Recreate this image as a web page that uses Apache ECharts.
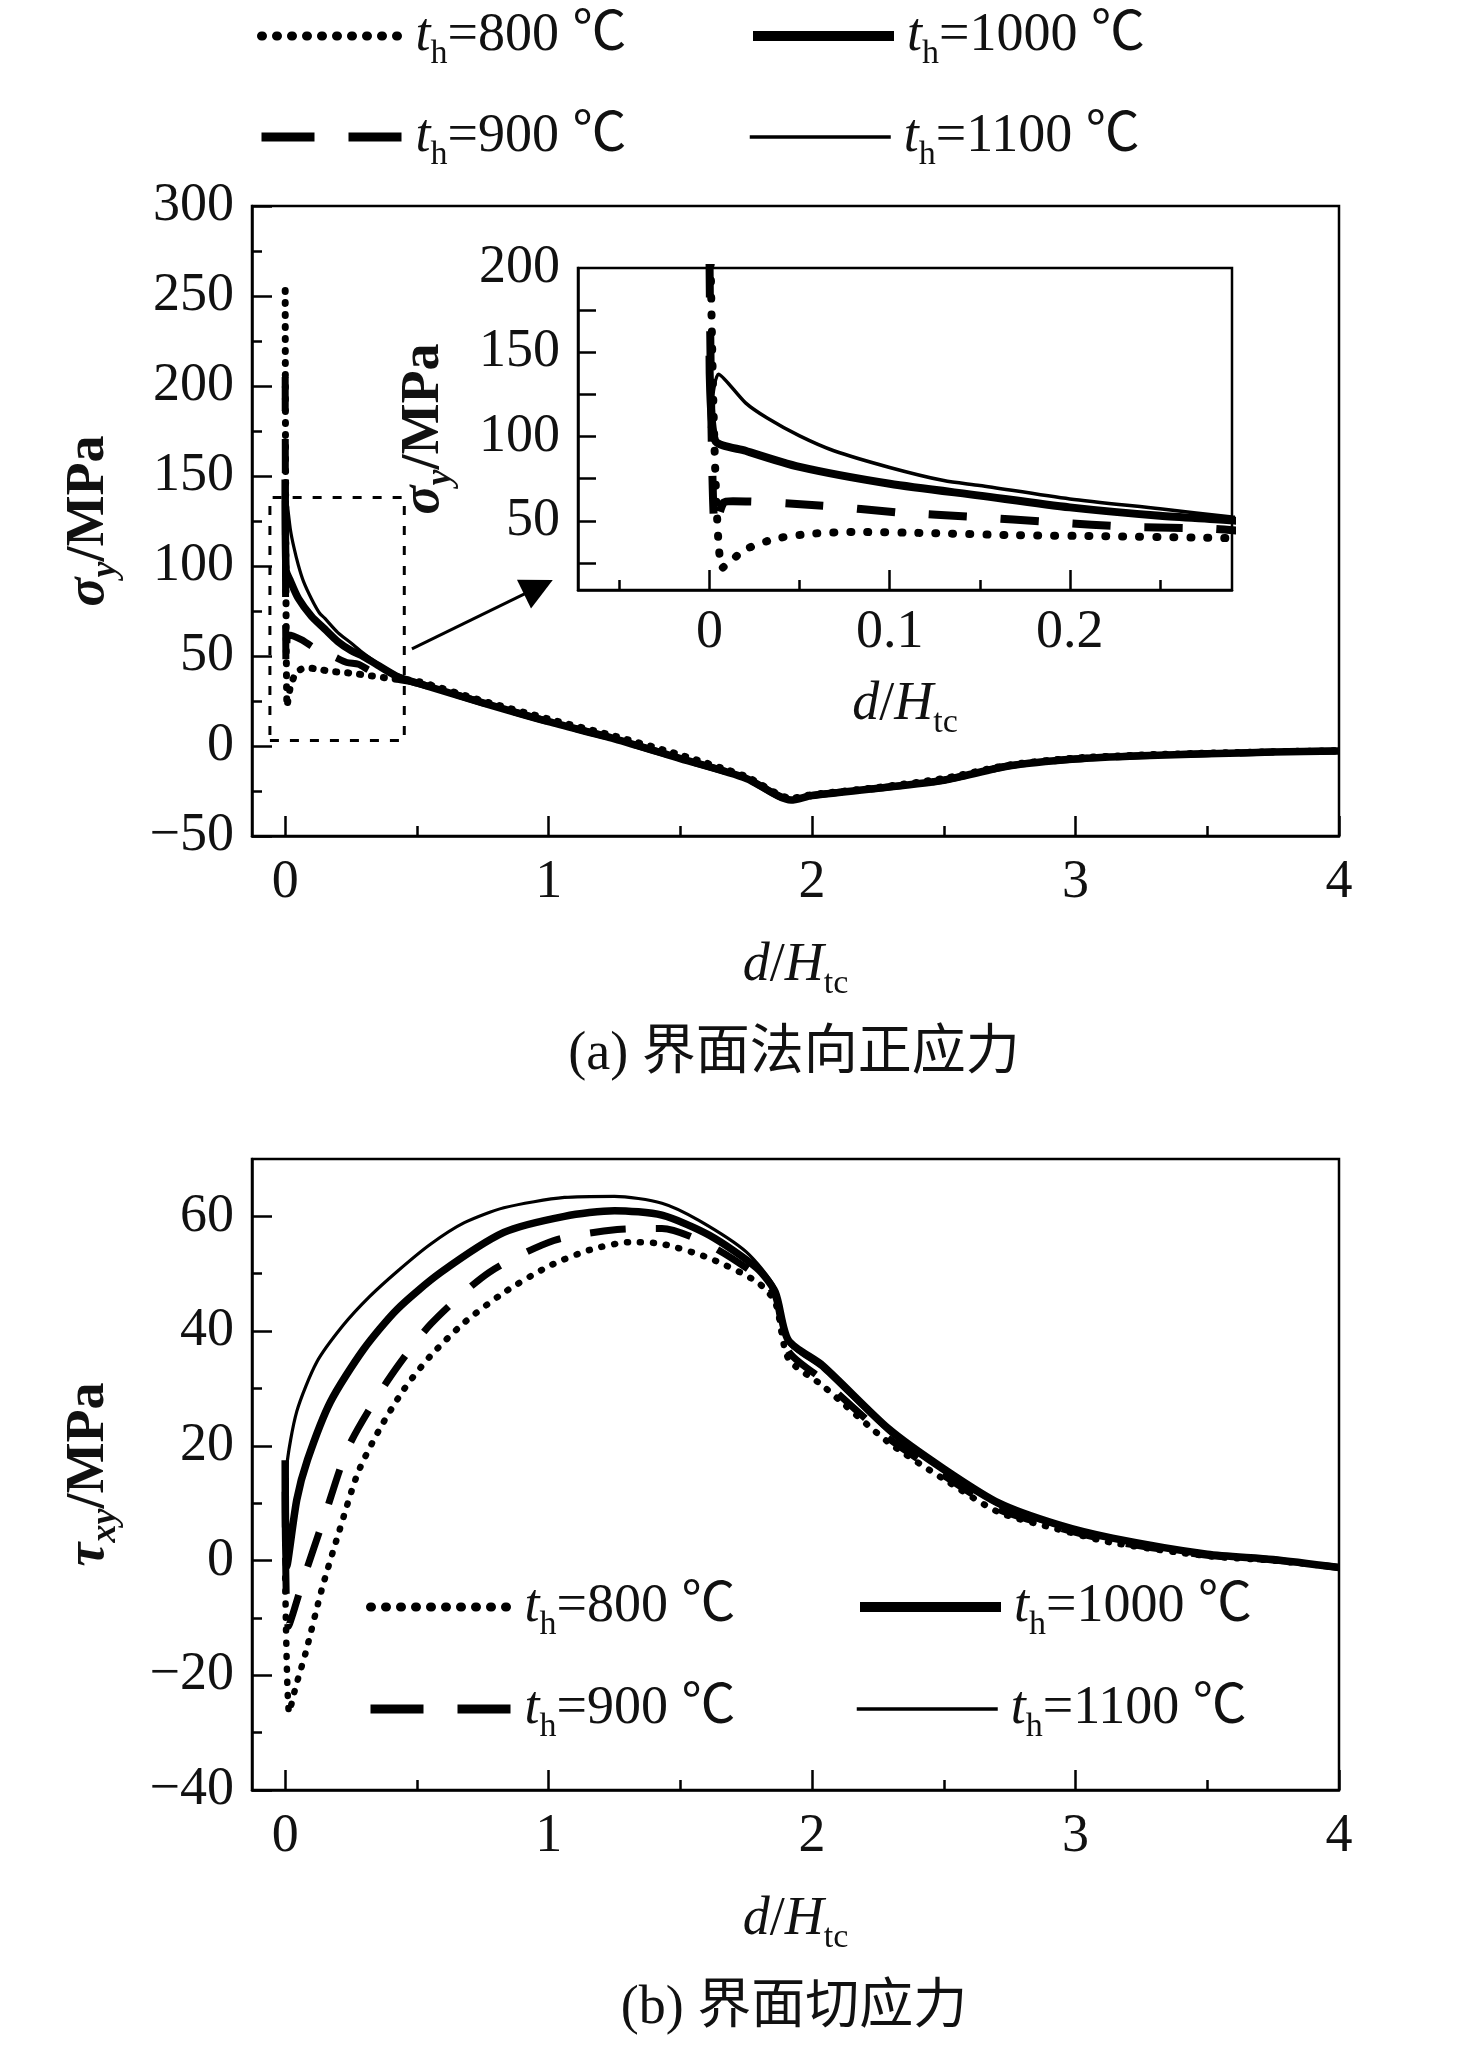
<!DOCTYPE html>
<html>
<head>
<meta charset="utf-8">
<script src="https://cdn.jsdelivr.net/npm/echarts@6/dist/echarts.min.js"></script>
<style>
  html, body { margin: 0; padding: 0; background: #fff; }
  #chart { width: 1476px; height: 2046px; }
</style>
</head>
<body>
<div id="chart"></div>
<script>
// heating temperatures (legend)
var temps = ['800', '900', '1000', '1100'];

// (a) interface normal stress sigma_y vs d/H_tc
var aX800 = [0, 0.007, 0.02, 0.037, 0.057, 0.08, 0.12, 0.17, 0.22, 0.27, 0.3, 0.4, 0.5, 0.75, 1.0, 1.25, 1.5, 1.75, 1.92, 2.0, 2.25, 2.5, 2.75, 3.0, 3.25, 3.5, 3.75, 4.0];
var aY800 = [253, 22, 33, 39.5, 42.4, 43.4, 42.8, 41.5, 40.9, 40.1, 39.5, 37.5, 36, 25, 15, 5.5, -5, -17, -29, -27, -23, -18, -10.5, -6.7, -5, -4, -3.2, -2.6];
var aX900 = [0, 0.003, 0.008, 0.013, 0.063, 0.105, 0.147, 0.19, 0.234, 0.278, 0.32, 0.4, 0.5, 0.75, 1.0, 1.25, 1.5, 1.75, 1.92, 2.0, 2.25, 2.5, 2.75, 3.0, 3.25, 3.5, 3.75, 4.0];
var aY900 = [205, 45, 61, 61.7, 59, 55, 52.3, 49.3, 46.4, 45.4, 42, 38, 35, 24, 13.5, 4, -7, -18, -30, -27.5, -23.5, -19, -11, -7.2, -5.4, -4.3, -3.4, -2.8];
var aX1000 = [0, 0.003, 0.02, 0.05, 0.1, 0.15, 0.2, 0.25, 0.29, 0.35, 0.42, 0.5, 0.75, 1.0, 1.25, 1.5, 1.75, 1.92, 2.0, 2.25, 2.5, 2.75, 3.0, 3.25, 3.5, 3.75, 4.0];
var aY1000 = [148, 98, 91.6, 82, 72, 65, 58, 53, 50.3, 45, 39, 35, 24, 13.5, 4, -7, -18, -30, -27.5, -23.5, -19, -11, -7.2, -5.4, -4.3, -3.4, -2.8];
var aX1100 = [0, 0.005, 0.02, 0.032, 0.05, 0.069, 0.1, 0.13, 0.15, 0.2, 0.25, 0.29, 0.35, 0.42, 0.5, 0.75, 1.0, 1.25, 1.5, 1.75, 1.92, 2.0, 2.25, 2.5, 2.75, 3.0, 3.25, 3.5, 3.75, 4.0];
var aY1100 = [105, 137, 120, 111, 100.4, 91.6, 81.7, 73.9, 71, 63, 57.2, 52.3, 46, 40, 35.5, 24, 13.5, 4, -7, -18, -30, -27.5, -23.5, -19, -11, -7.2, -5.4, -4.3, -3.4, -2.8];

// (b) interface shear stress tau_xy vs d/H_tc
var bX800 = [0, 0.015, 0.04, 0.078, 0.139, 0.207, 0.276, 0.357, 0.45, 0.55, 0.68, 0.83, 1.0, 1.16, 1.31, 1.43, 1.61, 1.79, 1.86, 1.91, 2.04, 2.29, 2.5, 2.71, 2.93, 3.14, 3.5, 3.75, 4.0];
var bY800 = [-3, -26.5, -22, -16, -5, 5.4, 15.3, 22.8, 29.8, 35.6, 41.5, 46.7, 51.3, 54.2, 55.5, 55.2, 52.7, 48.6, 45, 35.2, 30.5, 20.6, 14.2, 8.4, 5.5, 3.1, 0.8, 0, -1.2];
var bX900 = [0, 0.012, 0.071, 0.146, 0.24, 0.388, 0.552, 0.773, 1.02, 1.26, 1.43, 1.61, 1.79, 1.86, 1.91, 2.04, 2.29, 2.5, 2.71, 2.93, 3.14, 3.5, 3.75, 4.0];
var bY900 = [12, -11.5, -3, 7.2, 19.8, 31.3, 41.2, 50.2, 55.8, 57.7, 57.9, 55, 49.7, 46.2, 36.5, 31.5, 21.3, 14.8, 8.9, 5.8, 3.4, 0.9, 0.1, -1.2];
var bX1000 = [0, 0.006, 0.044, 0.085, 0.171, 0.297, 0.425, 0.59, 0.83, 1.06, 1.25, 1.43, 1.61, 1.79, 1.86, 1.91, 2.04, 2.29, 2.5, 2.71, 2.93, 3.14, 3.5, 3.75, 4.0];
var bY1000 = [17.5, -1, 10.6, 17.6, 27.6, 36.8, 43.8, 50.2, 57.2, 60, 61, 60.2, 56.7, 51, 46.8, 38.4, 34, 23, 16, 10, 6.3, 3.9, 1.1, 0.2, -1.2];
var bX1100 = [0, 0.005, 0.044, 0.12, 0.22, 0.32, 0.425, 0.55, 0.68, 0.83, 1.06, 1.25, 1.43, 1.57, 1.75, 1.86, 1.91, 2.04, 2.29, 2.5, 2.71, 2.93, 3.14, 3.5, 3.75, 4.0];
var bY1100 = [5, 16, 26, 34.6, 41, 46, 50.4, 55.1, 58.9, 61.5, 63.3, 63.5, 62.3, 59.3, 53.8, 47.4, 38, 33.4, 22.4, 15.4, 9.5, 6, 3.7, 1, 0.2, -1.2];

// zoom box and arrow in (a)
var boxX = [-0.058, 0.452, 0.452, -0.058, -0.058];
var boxY = [3, 3, 138, 138, 3];
var arrowFrom = [0.481, 54];
var arrowTo = [0.961, 88.3];

// tick values
var aXMajor = [0, 1, 2, 3, 4], aXMinor = [0.5, 1.5, 2.5, 3.5];
var aYMajor = [-50, 0, 50, 100, 150, 200, 250, 300], aYMinor = [-25, 25, 75, 125, 175, 225, 275];
var inXMajor = [0, 0.1, 0.2], inXMinor = [-0.05, 0.05, 0.15, 0.25];
var inYTicks = [25, 50, 75, 100, 125, 150, 175], inYLabels = [50, 100, 150, 200];
var bXMajor = [0, 1, 2, 3, 4], bXMinor = [0.5, 1.5, 2.5, 3.5];
var bYMajor = [-40, -20, 0, 20, 40, 60], bYMinor = [-30, -10, 10, 30, 50];

var FONT = "'Liberation Serif', 'Noto Sans CJK SC', serif";
var FS = 54;

function pairs(xs, ys) {
  return xs.map(function (x, i) { return [x, ys[i]]; });
}
function fmt(v) {
  return v < 0 ? '\u2212' + Math.abs(v) : String(v);
}
function seriesName(t) { return 't_h=' + t + ' \u2103'; }

var rich = {
  i: { fontFamily: FONT, fontSize: FS, fontStyle: 'italic', color: '#111', lineHeight: 70 },
  n: { fontFamily: FONT, fontSize: FS, color: '#111', lineHeight: 70 },
  sub: { fontFamily: FONT, fontSize: 34, color: '#111', verticalAlign: 'bottom', lineHeight: 70 },
  bi: { fontFamily: FONT, fontSize: FS, fontStyle: 'italic', fontWeight: 'bold', color: '#111', lineHeight: 70 },
  bn: { fontFamily: FONT, fontSize: FS, fontWeight: 'bold', color: '#111', lineHeight: 70 },
  bisub: { fontFamily: FONT, fontSize: 36, fontStyle: 'italic', fontWeight: 'bold', color: '#111', verticalAlign: 'bottom', lineHeight: 70 },
  g: { width: 8 }
};

var xName = '{i|d}{n|/}{i|H}{sub|tc}';

function majorX(gi, min, max, major, name, gap, lblMargin) {
  return {
    type: 'value', gridIndex: gi, min: min, max: max, position: 'bottom',
    axisLine: { show: true, onZero: false, lineStyle: { color: '#000', width: 2.5 } },
    axisTick: { show: true, inside: true, length: 20, customValues: major, lineStyle: { color: '#000', width: 2.5 } },
    axisLabel: { customValues: major, formatter: fmt, margin: lblMargin, fontFamily: FONT, fontSize: FS, color: '#111' },
    splitLine: { show: false },
    name: name, nameLocation: 'middle', nameGap: gap, nameTextStyle: { rich: rich }
  };
}
function minorX(gi, min, max, minor) {
  return {
    type: 'value', gridIndex: gi, min: min, max: max, position: 'bottom',
    axisLine: { show: false, onZero: false },
    axisTick: { show: true, inside: true, length: 10, customValues: minor, lineStyle: { color: '#000', width: 2.5 } },
    axisLabel: { show: false }, splitLine: { show: false }
  };
}
function majorY(gi, min, max, ticks, labels, name, gap, tickLen) {
  return {
    type: 'value', gridIndex: gi, min: min, max: max, position: 'left',
    axisLine: { show: true, onZero: false, lineStyle: { color: '#000', width: 2.5 } },
    axisTick: { show: true, inside: true, length: tickLen, customValues: ticks, lineStyle: { color: '#000', width: 2.5 } },
    axisLabel: { customValues: labels, formatter: fmt, margin: 18, fontFamily: FONT, fontSize: FS, color: '#111' },
    splitLine: { show: false },
    name: name, nameLocation: 'middle', nameGap: gap, nameRotate: 90, nameTextStyle: { rich: rich }
  };
}
function minorY(gi, min, max, minor) {
  return {
    type: 'value', gridIndex: gi, min: min, max: max, position: 'left',
    axisLine: { show: false, onZero: false },
    axisTick: { show: true, inside: true, length: 10, customValues: minor, lineStyle: { color: '#000', width: 2.5 } },
    axisLabel: { show: false }, splitLine: { show: false }
  };
}

// line looks per panel
var looks = {
  main: {
    '800': { type: [1, 11], width: 7, cap: 'round' },
    '900': { type: [34, 28], width: 7 },
    '1000': { width: 7.5 },
    '1100': { width: 3.2 }
  },
  inset: {
    '800': { type: [1, 16], width: 8, cap: 'round' },
    '900': { type: [38, 34], width: 8 },
    '1000': { width: 8 },
    '1100': { width: 3.5 }
  },
  b: {
    '800': { type: [1, 12], width: 6.5, cap: 'round' },
    '900': { type: [36, 30], width: 7 },
    '1000': { width: 7.5 },
    '1100': { width: 3.2 }
  }
};

function curve(t, xs, ys, xi, yi, look) {
  return {
    name: seriesName(t), type: 'line', xAxisIndex: xi, yAxisIndex: yi,
    data: pairs(xs, ys), symbol: 'none', smooth: 0.25,
    itemStyle: { color: '#000' },
    lineStyle: Object.assign({ color: '#000' }, look), z: 3, clip: true
  };
}

var aData = { '800': [aX800, aY800], '900': [aX900, aY900], '1000': [aX1000, aY1000], '1100': [aX1100, aY1100] };
var bData = { '800': [bX800, bY800], '900': [bX900, bY900], '1000': [bX1000, bY1000], '1100': [bX1100, bY1100] };

var series = [];
temps.forEach(function (t) {
  series.push(curve(t, aData[t][0], aData[t][1], 0, 0, looks.main[t]));
  series.push(curve(t, aData[t][0], aData[t][1], 2, 2, looks.inset[t]));
  series.push(curve(t, bData[t][0], bData[t][1], 4, 3, looks.b[t]));
});
series.push({
  name: 'box', type: 'line', xAxisIndex: 0, yAxisIndex: 0, data: pairs(boxX, boxY),
  symbol: 'none', lineStyle: { color: '#000', width: 3, type: [9, 11] }, z: 2
});
series.push({
  name: 'arrow', type: 'lines', coordinateSystem: 'cartesian2d', xAxisIndex: 0, yAxisIndex: 0,
  symbol: ['none', 'triangle'], symbolSize: 32, silent: true, z: 4,
  itemStyle: { color: '#000' },
  lineStyle: { color: '#000', width: 3, opacity: 1, curveness: 0 },
  data: [{ coords: [arrowFrom, arrowTo] }]
});

// legend icon looks
var legendLooks = {
  '800': { type: [1, 14], width: 9, cap: 'round', color: '#000' },
  '900': { type: [53, 34], width: 9, color: '#000' },
  '1000': { width: 10, type: 'solid', color: '#000' },
  '1100': { width: 3.5, type: 'solid', color: '#000' }
};
function legendFmt(name) {
  var v = name.replace('t_h=', '').replace(' \u2103', '');
  return '{g|}{i|t}{sub|h}{n|=' + v + ' \u2103}';
}
function legendOne(t, left, top) {
  return {
    data: [{ name: seriesName(t), lineStyle: legendLooks[t], itemStyle: { opacity: 0, color: 'transparent', borderWidth: 0 } }],
    left: left, top: top, itemWidth: 141, itemHeight: 20, itemGap: 0,
    padding: 0, selectedMode: false, formatter: legendFmt,
    textStyle: { rich: rich }
  };
}

var chart = echarts.init(document.getElementById('chart'));
chart.setOption({
  animation: false,
  backgroundColor: '#fff',
  color: ['#000'],
  grid: [
    { left: 252, top: 206, width: 1087, height: 630, show: true, borderColor: '#000', borderWidth: 2.5 },
    { left: 578, top: 268, width: 654, height: 322, show: true, borderColor: '#000', borderWidth: 2.5 },
    { left: 252, top: 1159, width: 1087, height: 631, show: true, borderColor: '#000', borderWidth: 2.5 }
  ],
  xAxis: [
    majorX(0, -0.126, 4, aXMajor, xName, 95, 20),
    minorX(0, -0.126, 4, aXMinor),
    majorX(1, -0.073, 0.29, inXMajor, xName, 80, 16),
    minorX(1, -0.073, 0.29, inXMinor),
    majorX(2, -0.126, 4, bXMajor, xName, 95, 20),
    minorX(2, -0.126, 4, bXMinor)
  ],
  yAxis: [
    majorY(0, -50, 300, aYMajor, aYMajor, '{bi|\u03c3}{bisub|y}{bn|/MPa}', 128, 20),
    minorY(0, -50, 300, aYMinor),
    majorY(1, 9, 200, inYTicks, inYLabels, '{bi|\u03c3}{bisub|y}{bn|/MPa}', 119, 18),
    majorY(2, -40, 70, bYMajor, bYMajor, '{bi|\u03c4}{bisub|xy}{bn|/MPa}', 128, 20),
    minorY(2, -40, 70, bYMinor)
  ],
  legend: [
    legendOne('800', 257, 9),
    legendOne('1000', 748, 9),
    legendOne('900', 257, 110),
    legendOne('1100', 748, 110),
    legendOne('800', 366, 1580),
    legendOne('1000', 855, 1580),
    legendOne('900', 366, 1682),
    legendOne('1100', 855, 1682)
  ],
  graphic: [
    { type: 'text', x: 794, y: 1055, style: { text: '(a) 界面法向正应力', font: FS + 'px ' + FONT, fill: '#111', textAlign: 'center', textVerticalAlign: 'middle' } },
    { type: 'text', x: 794, y: 2009, style: { text: '(b) 界面切应力', font: FS + 'px ' + FONT, fill: '#111', textAlign: 'center', textVerticalAlign: 'middle' } }
  ],
  series: series
});
</script>
</body>
</html>
